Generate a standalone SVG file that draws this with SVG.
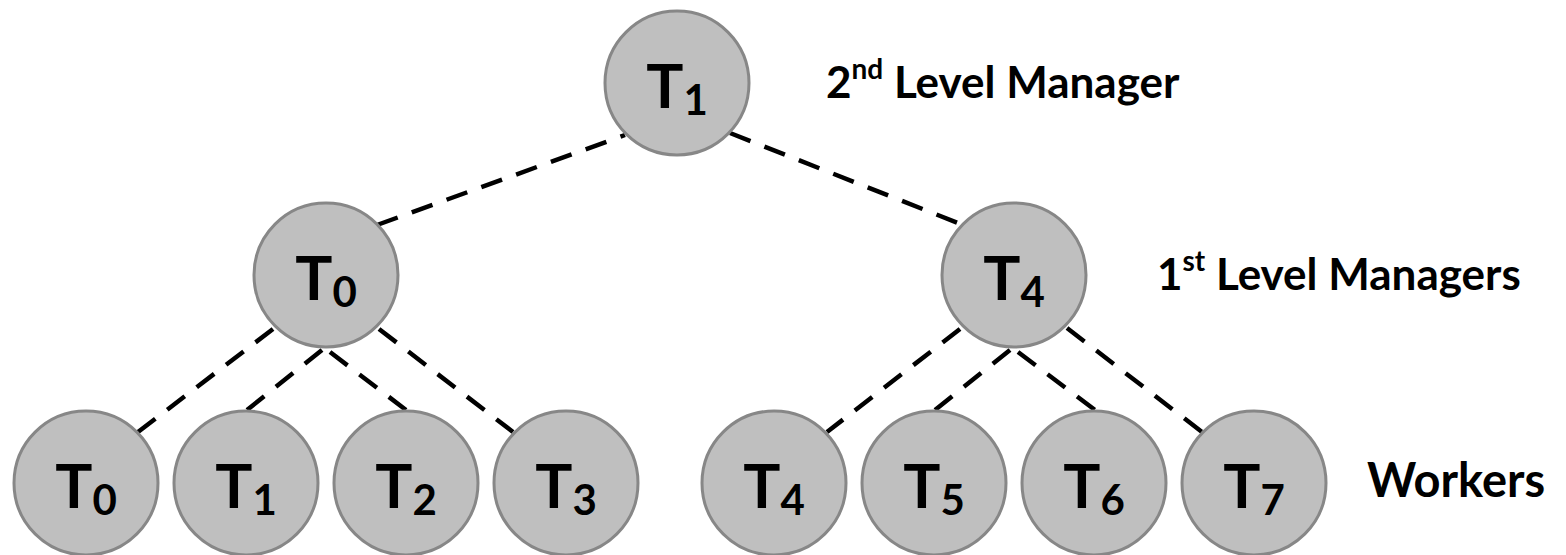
<svg xmlns="http://www.w3.org/2000/svg" width="1566" height="555" viewBox="0 0 1566 555">
  <style>
    .node circle { fill: #bfbfbf; stroke: #878787; stroke-width: 3; }
    .node text { font-family: Lato, "Liberation Sans", sans-serif; font-weight: bold; font-size: 62px; fill: #000; text-anchor: middle; }
    .node .sub { font-size: 42px; }
    .link { stroke: #000; stroke-width: 4.5; stroke-dasharray: 22 15; fill: none; }
    .lvl { font-family: Lato, "Liberation Sans", sans-serif; font-weight: bold; font-size: 44px; fill: #000; }
    .lvl .sup { font-size: 28px; }
  </style>

  <!-- connectors -->
  <g id="connectors">
    <line class="link" x1="377" y1="225" x2="625" y2="135"/>
    <line class="link" x1="730" y1="133" x2="958" y2="223"/>
    <line class="link" x1="273" y1="329" x2="138" y2="432"/>
    <line class="link" x1="322" y1="350" x2="247" y2="410"/>
    <line class="link" x1="330" y1="352" x2="406" y2="410"/>
    <line class="link" x1="379" y1="329" x2="513" y2="432"/>
    <line class="link" x1="960" y1="329" x2="827" y2="432"/>
    <line class="link" x1="1010" y1="350" x2="935" y2="410"/>
    <line class="link" x1="1018" y1="352" x2="1095" y2="410"/>
    <line class="link" x1="1067" y1="328" x2="1202" y2="432"/>
  </g>

  <!-- second level manager -->
  <g id="root-t1" class="node">
    <circle cx="677" cy="83" r="72"/>
    <text x="677" y="108">T<tspan class="sub" dy="7">1</tspan></text>
  </g>

  <!-- first level managers -->
  <g id="mgr-t0" class="node">
    <circle cx="326" cy="275" r="72"/>
    <text x="326" y="300">T<tspan class="sub" dy="7">0</tspan></text>
  </g>
  <g id="mgr-t4" class="node">
    <circle cx="1014" cy="275" r="72"/>
    <text x="1014" y="300">T<tspan class="sub" dy="7">4</tspan></text>
  </g>

  <!-- workers -->
  <g id="worker-t0" class="node">
    <circle cx="86" cy="483" r="72"/>
    <text x="86" y="508">T<tspan class="sub" dy="7">0</tspan></text>
  </g>
  <g id="worker-t1" class="node">
    <circle cx="246" cy="483" r="72"/>
    <text x="246" y="508">T<tspan class="sub" dy="7">1</tspan></text>
  </g>
  <g id="worker-t2" class="node">
    <circle cx="406" cy="483" r="72"/>
    <text x="406" y="508">T<tspan class="sub" dy="7">2</tspan></text>
  </g>
  <g id="worker-t3" class="node">
    <circle cx="566" cy="483" r="72"/>
    <text x="566" y="508">T<tspan class="sub" dy="7">3</tspan></text>
  </g>
  <g id="worker-t4" class="node">
    <circle cx="774" cy="483" r="72"/>
    <text x="774" y="508">T<tspan class="sub" dy="7">4</tspan></text>
  </g>
  <g id="worker-t5" class="node">
    <circle cx="934" cy="483" r="72"/>
    <text x="934" y="508">T<tspan class="sub" dy="7">5</tspan></text>
  </g>
  <g id="worker-t6" class="node">
    <circle cx="1094" cy="483" r="72"/>
    <text x="1094" y="508">T<tspan class="sub" dy="7">6</tspan></text>
  </g>
  <g id="worker-t7" class="node">
    <circle cx="1254" cy="483" r="72"/>
    <text x="1254" y="508">T<tspan class="sub" dy="7">7</tspan></text>
  </g>

  <!-- level captions -->
  <g id="captions">
    <text class="lvl" x="826" y="98">2<tspan class="sup" dy="-19">nd</tspan><tspan dy="19"> Level Manager</tspan></text>
    <text class="lvl" x="1157" y="290">1<tspan class="sup" dy="-19">st</tspan><tspan dy="19"> Level Managers</tspan></text>
    <text class="lvl" x="1367" y="497" style="font-size:47px">Workers</text>
  </g>
</svg>
